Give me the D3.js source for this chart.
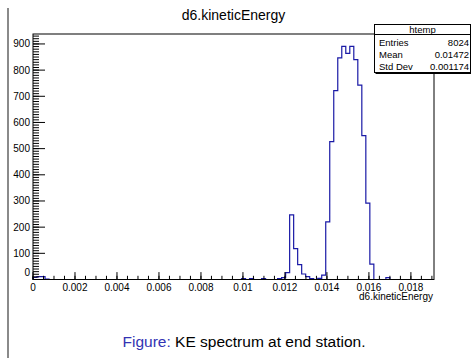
<!DOCTYPE html>
<html lang="en">
<head>
    <meta charset="UTF-8">
    <title>d6.kineticEnergy</title>
    <script src="https://d3js.org/d3.v7.min.js"></script>
    <style>
        body { margin: 0; background: #fff; }
        svg text { font-family: "Liberation Sans", Arial, sans-serif; }
    </style>
</head>
<body>
    <div id="chart"></div>
    <script>
        // histogram: 100 bins between xMin and xMax
        const xMin = 0, xMax = 0.0191;
        const counts = [
            8, 11, 11, 2, 0, 0, 0, 0, 0, 0,
            0, 0, 0, 0, 0, 0, 0, 0, 0, 0,
            0, 0, 0, 0, 0, 0, 0, 0, 0, 0,
            0, 0, 0, 0, 0, 0, 0, 0, 0, 0,
            0, 0, 0, 0, 0, 0, 0, 0, 0, 0,
            0, 0, 3, 0, 3, 0, 0, 3, 0, 0,
            0, 3, 7, 26, 247, 118, 57, 21, 11, 3,
            0, 4, 17, 220, 527, 722, 847, 891, 864, 891,
            840, 743, 550, 292, 59, 0, 0, 0, 7, 0,
            0, 0, 0, 0, 0, 0, 0, 0, 0, 0
        ];
        const yMax = 938;

        const xTicks = [0, 0.002, 0.004, 0.006, 0.008, 0.01, 0.012, 0.014, 0.016, 0.018];
        const xTickLabels = ["0", "0.002", "0.004", "0.006", "0.008", "0.01", "0.012", "0.014", "0.016", "0.018"];
        const yTicks = [0, 100, 200, 300, 400, 500, 600, 700, 800, 900];

        const statNames = ["Entries", "Mean", "Std Dev"];
        const statValues = ["8024", "0.01472", "0.001174"];

        const W = 471, H = 358;
        const frame = {left: 33, right: 434, top: 34, bottom: 279.5};

        const svg = d3.select("#chart").append("svg")
            .attr("width", W).attr("height", H);

        svg.append("rect").attr("width", W).attr("height", H).attr("fill", "#fff");

        // slide border on the left
        svg.append("line")
            .attr("x1", 8).attr("x2", 8).attr("y1", 8).attr("y2", H)
            .attr("stroke", "#8a8a8a").attr("stroke-width", 2);

        const x = d3.scaleLinear().domain([xMin, xMax]).range([frame.left, frame.right]);
        const y = d3.scaleLinear().domain([0, yMax]).range([frame.bottom, frame.top]);

        const binW = (xMax - xMin) / counts.length;

        // step outline of the histogram
        const pts = [[x(xMin), y(0)]];
        counts.forEach((c, i) => {
            pts.push([x(xMin + i * binW), y(c)]);
            pts.push([x(xMin + (i + 1) * binW), y(c)]);
        });
        pts.push([x(xMax), y(0)]);

        svg.append("path")
            .attr("d", d3.line()(pts))
            .attr("fill", "none")
            .attr("stroke", "#1a1aa6")
            .attr("stroke-width", 1.2);

        // frame
        svg.append("rect")
            .attr("x", frame.left).attr("y", frame.top)
            .attr("width", frame.right - frame.left)
            .attr("height", frame.bottom - frame.top)
            .attr("fill", "none").attr("stroke", "#000").attr("stroke-width", 1);

        // x axis ticks (pointing up)
        const xMinor = d3.range(0, 39).map(i => i * 0.0005).filter(v => v <= xMax);
        const gx = svg.append("g").attr("class", "axis axis--x");
        gx.selectAll("line.minor").data(xMinor).enter().append("line")
            .attr("x1", d => x(d)).attr("x2", d => x(d))
            .attr("y1", frame.bottom).attr("y2", frame.bottom - 3.7)
            .attr("stroke", "#000");
        gx.selectAll("line.major").data(xTicks).enter().append("line")
            .attr("x1", d => x(d)).attr("x2", d => x(d))
            .attr("y1", frame.bottom).attr("y2", frame.bottom - 7.4)
            .attr("stroke", "#000");
        gx.selectAll("text").data(xTicks).enter().append("text")
            .attr("x", d => x(d)).attr("y", 290.5)
            .attr("text-anchor", "middle")
            .attr("font-size", 10)
            .text((d, i) => xTickLabels[i]);

        // y axis ticks (pointing right)
        const yMinor = d3.range(0, 94).map(i => i * 10).filter(v => v <= yMax);
        const gy = svg.append("g").attr("class", "axis axis--y");
        gy.selectAll("line.minor").data(yMinor).enter().append("line")
            .attr("x1", frame.left).attr("x2", frame.left + 6)
            .attr("y1", d => y(d)).attr("y2", d => y(d))
            .attr("stroke", "#000");
        gy.selectAll("line.major").data(yTicks).enter().append("line")
            .attr("x1", frame.left).attr("x2", frame.left + 12)
            .attr("y1", d => y(d)).attr("y2", d => y(d))
            .attr("stroke", "#000");
        gy.selectAll("text").data(yTicks).enter().append("text")
            .attr("x", 30)
            .attr("y", d => y(d) + (d === 0 ? -4 : 3.5))
            .attr("text-anchor", "end")
            .attr("font-size", 10)
            .text(d => d);

        // axis title
        svg.append("text")
            .attr("x", 433).attr("y", 300)
            .attr("text-anchor", "end")
            .attr("font-size", 10)
            .text("d6.kineticEnergy");

        // plot title
        svg.append("text")
            .attr("x", (frame.left + frame.right) / 2).attr("y", 20)
            .attr("text-anchor", "middle")
            .attr("font-size", 14)
            .text("d6.kineticEnergy");

        // stats box
        const box = {x: 374.5, y: 24.5, w: 96, h: 48};
        svg.append("rect")
            .attr("x", box.x).attr("y", box.y).attr("width", box.w).attr("height", box.h)
            .attr("fill", "#fff").attr("stroke", "#000");
        svg.append("line")
            .attr("x1", box.x + 1).attr("x2", box.x + box.w + 1)
            .attr("y1", box.y + box.h + 1).attr("y2", box.y + box.h + 1)
            .attr("stroke", "#000");
        svg.append("line")
            .attr("x1", box.x).attr("x2", box.x + box.w)
            .attr("y1", 34.5).attr("y2", 34.5)
            .attr("stroke", "#000");
        svg.append("text")
            .attr("x", box.x + box.w / 2).attr("y", 32.5)
            .attr("text-anchor", "middle").attr("font-size", 9.5)
            .text("htemp");
        const rowY = [46, 57.5, 70];
        svg.selectAll("text.sname").data(statNames).enter().append("text")
            .attr("class", "sname")
            .attr("x", 379).attr("y", (d, i) => rowY[i])
            .attr("font-size", 9.5)
            .text(d => d);
        svg.selectAll("text.sval").data(statValues).enter().append("text")
            .attr("class", "sval")
            .attr("x", 469).attr("y", (d, i) => rowY[i])
            .attr("text-anchor", "end")
            .attr("font-size", 9.5)
            .text(d => d);

        // caption
        const cap = svg.append("text")
            .attr("x", 244).attr("y", 346.5)
            .attr("text-anchor", "middle")
            .attr("font-size", 15.5);
        cap.append("tspan").attr("fill", "#3333b3").text("Figure: ");
        cap.append("tspan").attr("fill", "#000").text("KE spectrum at end station.");
    </script>
</body>
</html>
